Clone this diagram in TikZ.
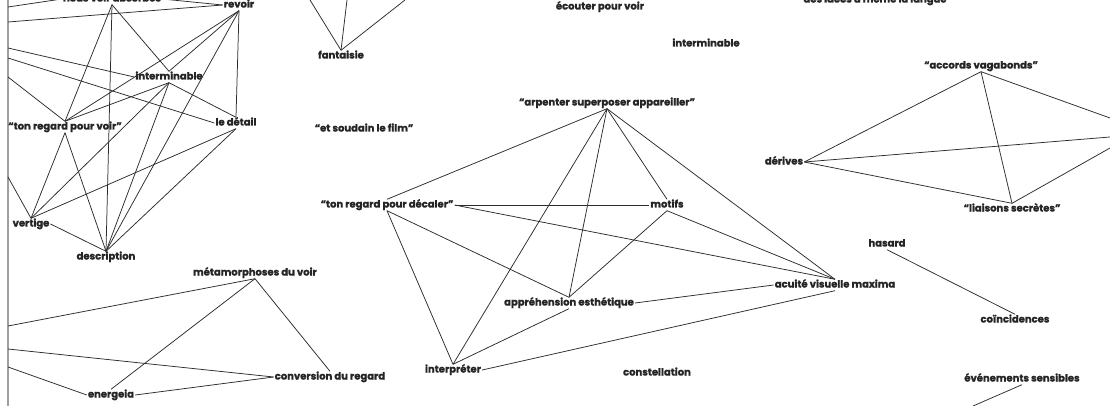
\documentclass[tikz,border=0pt]{standalone}
\usepackage{fontspec}
\setmainfont{Poppins}[BoldFeatures={FakeBold=1.2}]
\definecolor{txt}{HTML}{252525}
\definecolor{lnc}{HTML}{2C2C2C}
\definecolor{bord}{HTML}{A0A0A0}
\begin{document}
\begin{tikzpicture}[x=1pt,y=-1pt,
  lab/.style={font=\bfseries\fontsize{10}{12}\selectfont, text=txt, inner sep=1pt, text height=7pt, text depth=2pt},
  ln/.style={draw=lnc, line width=0.75pt}]
\useasboundingbox (0,0) rectangle (1110,406);
\fill[white] (0,0) rectangle (1110,406);
\clip (0,0) rectangle (1110,406);
% border line
\draw[bord, line width=1.6pt] (8,0) -- (8,406);
% nodes
\node[lab] (nva) at (112,-1) {nous voir absorbés};
\node[lab] (revoir) at (239,5) {revoir};
\node[lab] (intL) at (169,77) {interminable};
\node[lab] (detail) at (236,123) {le détail};
\node[lab] (tpv) at (65,127) {“ton regard pour voir”};
\node[lab] (vertige) at (31,224) {vertige};
\node[lab] (descr) at (106,257) {description};
\node[lab] (fant) at (341,56) {fantaisie};
\node[lab] (soudain) at (364,129) {“et soudain le film”};
\node[lab] (ecouter) at (600,7) {écouter pour voir};
\node[lab] (intR) at (706,44) {interminable};
\node[lab] (idees) at (875,0) {“des idées à même la langue”};
\node[lab] (arp) at (607,103) {“arpenter superposer appareiller”};
\node[lab] (accords) at (981,66) {“accords vagabonds”};
\node[lab] (derives) at (784,162) {dérives};
\node[lab] (liaisons) at (1012,209) {“liaisons secrètes”};
\node[lab] (tpd) at (387,205) {“ton regard pour décaler”};
\node[lab] (motifs) at (667,205) {motifs};
\node[lab] (hasard) at (887,244) {hasard};
\node[lab] (appr) at (569,303) {appréhension esthétique};
\node[lab] (acuite) at (835,285) {acuité visuelle maxima};
\node[lab] (coinc) at (1015,320) {coïncidences};
\node[lab] (metam) at (255,273) {métamorphoses du voir};
\node[lab] (interp) at (453,370) {interpréter};
\node[lab] (constel) at (657,373) {constellation};
\node[lab] (conv) at (330,377) {conversion du regard};
\node[lab] (even) at (1022,379) {événements sensibles};
\node[lab] (energeia) at (111,395) {energeia};
% free ends
\coordinate (L1) at (8,7);
\coordinate (L2) at (8,22);
\coordinate (L3) at (8,48);
\coordinate (L4) at (8,58);
\coordinate (L5) at (8,77);
\coordinate (L6) at (8,177);
\coordinate (L7) at (8,326);
\coordinate (L8) at (8,349);
\coordinate (L9) at (8,367);
\coordinate (F1) at (310,0);
\coordinate (F2) at (347,0);
\coordinate (F3) at (405,0);
\coordinate (R1) at (1110,118);
\coordinate (R2) at (1110,137);
\coordinate (R3) at (1110,148);
\coordinate (B1) at (973,406);
% connectors left cluster
\draw[ln] (L1) -- (nva.west);
\draw[ln] (L2) -- (revoir.west);
\draw[ln] (nva.east) -- (revoir.west);
\draw[ln] (nva.south) -- (tpv.north);
\draw[ln] (nva.south) -- (descr.north);
\draw[ln] (nva.south) -- (intL.north);
\draw[ln] (revoir.south) -- (tpv.north);
\draw[ln] (revoir.south) -- (intL.north);
\draw[ln] (revoir.south) -- (detail.north);
\draw[ln] (revoir.south) -- (descr.north);
\draw[ln] (L3) -- (intL.west);
\draw[ln] (L4) -- (detail.west);
\draw[ln] (L5) -- (tpv.north);
\draw[ln] (intL.south) -- (tpv.north);
\draw[ln] (intL.south) -- (vertige.north);
\draw[ln] (intL.south) -- (descr.north);
\draw[ln] (intL.south) -- (detail.north);
\draw[ln] (detail.south) -- (vertige.north);
\draw[ln] (detail.south) -- (descr.north);
\draw[ln] (tpv.south) -- (vertige.north);
\draw[ln] (tpv.south) -- (descr.north);
\draw[ln] (L6) -- (vertige.north);
\draw[ln] (vertige.east) -- (descr.north);
% bottom left
\draw[ln] (L7) -- (metam.south);
\draw[ln] (L8) -- (conv.west);
\draw[ln] (L9) -- (energeia.west);
\draw[ln] (metam.south) -- (energeia.north);
\draw[ln] (metam.south) -- (conv.north);
\draw[ln] (energeia.east) -- (conv.west);
% fantaisie
\draw[ln] (F1) -- (fant.north);
\draw[ln] (F2) -- (fant.north);
\draw[ln] (F3) -- (fant.north);
% centre cluster
\draw[ln] (arp.south) -- (tpd.north);
\draw[ln] (arp.south) -- (interp.north);
\draw[ln] (arp.south) -- (appr.north);
\draw[ln] (arp.south) -- (motifs.north);
\draw[ln] (arp.south) -- (acuite.north);
\draw[ln] (tpd.east) -- (motifs.west);
\draw[ln] (tpd.east) -- (acuite.north);
\draw[ln] (tpd.south) -- (interp.north);
\draw[ln] (tpd.south) -- (appr.north);
\draw[ln] (motifs.south) -- (appr.north);
\draw[ln] (motifs.south) -- (acuite.north);
\draw[ln] (appr.east) -- (acuite.west);
\draw[ln] (appr.south) -- (interp.north);
\draw[ln] (interp.east) -- (acuite.south);
% right cluster
\draw[ln] (accords.south) -- (derives.east);
\draw[ln] (accords.south) -- (liaisons.north);
\draw[ln] (accords.south) -- (R1);
\draw[ln] (derives.east) -- (R2);
\draw[ln] (derives.east) -- (liaisons.north);
\draw[ln] (liaisons.north) -- (R3);
\draw[ln] (hasard.south) -- (coinc.north);
\draw[ln] (even.south) -- (B1);
\end{tikzpicture}
\end{document}
